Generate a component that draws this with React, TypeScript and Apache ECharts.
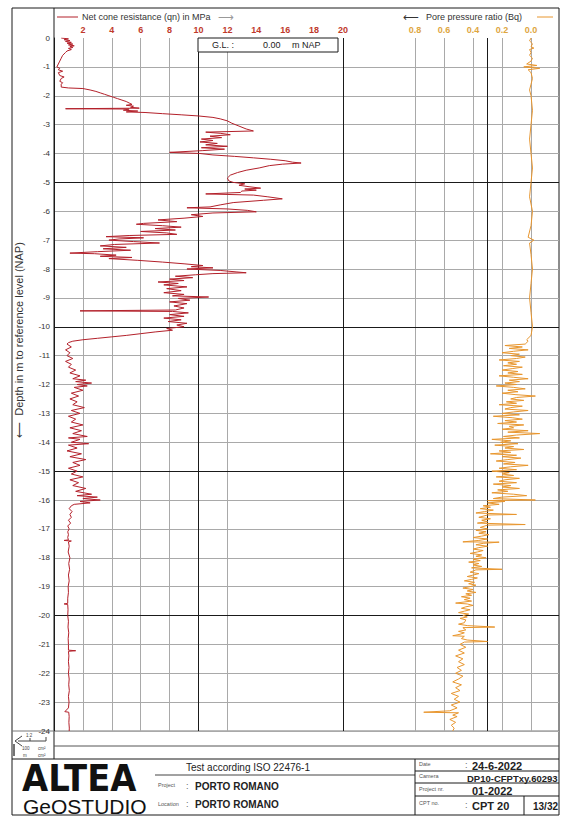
import React, { useEffect, useRef } from "react";
import * as echarts from "echarts";

// [depth below G.L. (m), net cone resistance qn (MPa)]
const QN_PROFILE: Array<[number, number]> = [
  [0.0, 0.5], [0.03, 1.0], [0.06, 0.7], [0.09, 1.1], [0.12, 0.8], [0.15, 1.2], [0.18, 0.9], [0.21, 1.3],
  [0.24, 1.0], [0.27, 1.4], [0.3, 1.1], [0.33, 1.3], [0.36, 1.0], [0.4, 1.2], [0.45, 0.9], [0.5, 0.8],
  [0.6, 0.6], [0.7, 0.5], [0.8, 0.4], [0.9, 0.3], [1.0, 0.2], [1.05, 0.4], [1.1, 0.3], [1.15, 0.6],
  [1.2, 0.3], [1.3, 0.4], [1.35, 0.7], [1.4, 0.5], [1.5, 0.4], [1.55, 0.6], [1.6, 0.5], [1.7, 0.5],
  [1.73, 1.0], [1.75, 2.0], [1.8, 2.5], [1.85, 2.9], [1.9, 3.2], [1.95, 3.5], [2.0, 3.8], [2.05, 4.1],
  [2.1, 4.4], [2.15, 4.7], [2.2, 5.0], [2.25, 5.2], [2.3, 5.4], [2.33, 5.0], [2.36, 5.5], [2.4, 5.3],
  [2.43, 5.9], [2.45, 0.8], [2.46, 5.2], [2.5, 4.8], [2.53, 5.8], [2.56, 5.0], [2.58, 6.3], [2.62, 7.5],
  [2.66, 8.8], [2.7, 10.0], [2.75, 11.0], [2.8, 11.5], [2.87, 12.0], [2.95, 12.3], [3.05, 12.8], [3.15, 13.3],
  [3.22, 13.8], [3.26, 10.5], [3.3, 11.5], [3.35, 12.2], [3.4, 10.8], [3.45, 11.6], [3.5, 10.2], [3.55, 11.0],
  [3.6, 10.1], [3.65, 11.3], [3.7, 10.5], [3.75, 12.0], [3.8, 10.2], [3.85, 11.8], [3.9, 10.3], [3.96, 8.0],
  [4.0, 10.1], [4.05, 11.0], [4.1, 12.5], [4.15, 13.8], [4.2, 15.0], [4.25, 16.0], [4.3, 16.5], [4.33, 17.1],
  [4.37, 15.8], [4.42, 14.9], [4.5, 14.2], [4.58, 13.3], [4.66, 12.7], [4.75, 12.2], [4.85, 12.0], [4.95, 12.1],
  [5.0, 12.4], [5.05, 13.2], [5.1, 12.8], [5.15, 13.5], [5.2, 14.3], [5.23, 13.2], [5.27, 14.0], [5.3, 13.0],
  [5.35, 12.9], [5.4, 10.5], [5.44, 13.8], [5.5, 14.8], [5.57, 15.8], [5.62, 14.5], [5.7, 12.4], [5.78, 11.5],
  [5.85, 10.8], [5.88, 9.2], [5.92, 12.0], [5.97, 13.4], [6.02, 14.0], [6.06, 11.0], [6.12, 9.5], [6.18, 10.3],
  [6.24, 9.0], [6.3, 7.2], [6.36, 8.5], [6.42, 6.2], [6.45, 5.7], [6.5, 7.5], [6.55, 8.8], [6.6, 7.0],
  [6.65, 8.4], [6.7, 6.0], [6.75, 7.8], [6.8, 8.5], [6.84, 5.2], [6.88, 3.6], [6.92, 6.2], [6.96, 4.5],
  [7.0, 3.8], [7.05, 5.5], [7.1, 7.3], [7.15, 4.2], [7.2, 3.2], [7.25, 5.0], [7.3, 3.4], [7.35, 5.3],
  [7.4, 3.0], [7.45, 1.1], [7.47, 2.8], [7.52, 4.3], [7.56, 3.2], [7.6, 5.4], [7.64, 3.8], [7.7, 5.8],
  [7.76, 7.5], [7.82, 9.0], [7.88, 10.3], [7.92, 9.5], [7.96, 11.0], [8.0, 9.2], [8.05, 11.5], [8.1, 12.6],
  [8.13, 13.3], [8.16, 11.0], [8.2, 9.8], [8.25, 8.4], [8.3, 9.6], [8.35, 8.0], [8.4, 9.0], [8.45, 7.2],
  [8.5, 8.6], [8.55, 7.6], [8.62, 9.2], [8.68, 7.8], [8.75, 8.8], [8.82, 7.6], [8.88, 9.0], [8.93, 8.2],
  [8.97, 10.7], [9.02, 8.6], [9.08, 9.4], [9.14, 8.0], [9.2, 9.2], [9.28, 8.3], [9.35, 9.0], [9.42, 8.4],
  [9.45, 1.8], [9.47, 8.2], [9.52, 9.3], [9.58, 8.0], [9.64, 9.0], [9.7, 7.6], [9.76, 8.8], [9.82, 7.9],
  [9.88, 9.2], [9.94, 8.5], [10.0, 9.0], [10.06, 7.8], [10.12, 8.2], [10.18, 7.0], [10.24, 6.0], [10.3, 5.0],
  [10.35, 4.0], [10.4, 3.0], [10.45, 2.0], [10.5, 1.3], [10.55, 1.0], [10.6, 0.9], [10.7, 1.2], [10.8, 0.8],
  [10.9, 1.1], [11.0, 0.9], [11.1, 1.3], [11.2, 0.8], [11.3, 1.2], [11.4, 1.0], [11.5, 1.5], [11.6, 1.1],
  [11.7, 1.8], [11.8, 1.3], [11.85, 2.2], [11.9, 1.5], [11.95, 2.6], [12.0, 1.6], [12.05, 2.3], [12.1, 1.4],
  [12.2, 2.0], [12.3, 1.2], [12.4, 1.7], [12.5, 1.1], [12.6, 1.6], [12.7, 1.3], [12.8, 2.1], [12.9, 1.2],
  [13.0, 1.8], [13.1, 1.0], [13.2, 1.5], [13.3, 1.2], [13.4, 2.0], [13.5, 1.1], [13.6, 1.9], [13.7, 1.3],
  [13.8, 2.3], [13.85, 1.0], [13.9, 1.8], [14.0, 1.2], [14.05, 2.4], [14.1, 1.0], [14.2, 1.6], [14.3, 0.9],
  [14.4, 1.9], [14.5, 1.1], [14.6, 2.2], [14.7, 1.3], [14.8, 1.8], [14.9, 1.0], [15.0, 1.6], [15.1, 1.2],
  [15.2, 2.0], [15.3, 1.1], [15.4, 1.7], [15.5, 1.3], [15.6, 2.2], [15.7, 1.5], [15.8, 2.6], [15.85, 1.6],
  [15.9, 3.0], [15.95, 2.0], [16.0, 3.2], [16.05, 1.8], [16.1, 2.5], [16.15, 1.4], [16.2, 1.2], [16.3, 1.05],
  [16.4, 1.25], [16.5, 1.1], [16.6, 1.2], [16.7, 1.0], [16.8, 1.15], [16.9, 0.95], [17.0, 1.05], [17.1, 0.95],
  [17.2, 1.0], [17.3, 0.95], [17.38, 1.0], [17.4, 0.7], [17.42, 1.2], [17.45, 1.0], [17.6, 1.05], [17.8, 0.98],
  [18.0, 1.1], [18.2, 1.02], [18.4, 1.08], [18.6, 1.0], [18.8, 1.05], [19.0, 0.98], [19.2, 1.0], [19.4, 0.95],
  [19.58, 0.95], [19.6, 0.7], [19.62, 0.95], [19.8, 0.97], [20.0, 0.95], [20.2, 1.0], [20.4, 0.97], [20.6, 1.02],
  [20.8, 0.98], [21.0, 1.0], [21.2, 1.0], [21.22, 1.5], [21.24, 1.0], [21.4, 1.03], [21.6, 1.0], [21.8, 1.04],
  [22.0, 1.0], [22.2, 1.05], [22.4, 1.02], [22.6, 1.06], [22.8, 1.0], [23.0, 1.04], [23.2, 1.0], [23.33, 0.75],
  [23.35, 1.02], [23.5, 1.05], [23.7, 1.03], [23.9, 1.06], [24.0, 1.05],
];

// [depth below G.L. (m), pore pressure ratio Bq (-)]
const BQ_PROFILE: Array<[number, number]> = [
  [0.0, 0.0], [0.1, 0.01], [0.2, -0.01], [0.3, 0.0], [0.35, -0.02], [0.4, 0.01], [0.5, 0.0], [0.6, 0.01],
  [0.7, -0.01], [0.8, 0.0], [0.9, 0.03], [0.95, -0.04], [1.0, 0.05], [1.05, -0.06], [1.1, 0.02], [1.2, 0.0],
  [1.4, -0.01], [1.6, 0.0], [1.8, 0.01], [2.0, 0.0], [2.5, -0.01], [3.0, 0.0], [3.5, 0.01], [4.0, 0.0],
  [4.5, -0.01], [5.0, 0.0], [5.5, 0.01], [6.0, -0.01], [6.5, 0.0], [6.9, 0.02], [7.0, -0.02], [7.1, 0.01],
  [7.5, 0.0], [8.0, -0.01], [8.5, 0.0], [9.0, 0.01], [9.5, 0.0], [10.0, -0.01], [10.3, 0.0], [10.45, 0.03],
  [10.5, 0.02], [10.6, 0.04], [10.65, 0.18], [10.7, 0.06], [10.75, 0.15], [10.8, 0.02], [10.85, 0.12], [10.9, 0.2],
  [10.95, 0.08], [11.0, 0.14], [11.05, 0.04], [11.1, 0.1], [11.15, 0.22], [11.2, 0.08], [11.25, 0.16], [11.3, 0.1],
  [11.35, 0.19], [11.4, 0.06], [11.45, 0.13], [11.5, 0.2], [11.55, 0.09], [11.6, 0.16], [11.65, 0.06], [11.7, 0.22],
  [11.75, 0.12], [11.8, 0.02], [11.85, 0.15], [11.9, 0.08], [11.95, 0.18], [12.0, 0.1], [12.05, 0.24], [12.1, 0.12],
  [12.15, 0.04], [12.2, 0.16], [12.25, 0.09], [12.3, 0.2], [12.35, 0.11], [12.4, -0.03], [12.45, 0.1], [12.5, 0.14],
  [12.55, 0.05], [12.6, 0.17], [12.65, 0.1], [12.7, 0.22], [12.75, 0.06], [12.8, 0.14], [12.85, 0.18], [12.9, 0.02],
  [12.95, 0.12], [13.0, 0.2], [13.05, 0.08], [13.1, 0.26], [13.15, 0.13], [13.2, 0.06], [13.25, 0.18], [13.3, 0.1],
  [13.35, 0.23], [13.4, 0.05], [13.45, 0.15], [13.5, 0.12], [13.55, 0.2], [13.6, 0.02], [13.65, 0.16], [13.7, -0.06],
  [13.75, 0.1], [13.8, 0.19], [13.85, 0.08], [13.9, 0.27], [13.95, 0.14], [14.0, 0.21], [14.05, 0.09], [14.1, 0.25],
  [14.15, 0.12], [14.2, 0.18], [14.25, 0.05], [14.3, 0.22], [14.35, 0.14], [14.4, 0.28], [14.45, 0.1], [14.5, 0.2],
  [14.55, 0.07], [14.6, 0.16], [14.65, 0.24], [14.7, 0.11], [14.75, 0.19], [14.8, 0.02], [14.85, 0.14], [14.9, 0.22],
  [14.95, 0.1], [15.0, 0.27], [15.05, 0.15], [15.1, 0.2], [15.15, 0.12], [15.2, 0.24], [15.25, 0.08], [15.3, 0.18],
  [15.35, 0.22], [15.4, 0.1], [15.45, 0.26], [15.5, 0.14], [15.55, 0.2], [15.6, 0.08], [15.65, 0.23], [15.7, 0.16],
  [15.75, 0.27], [15.8, 0.12], [15.85, 0.03], [15.9, 0.2], [15.95, 0.26], [16.0, -0.03], [16.02, 0.3], [16.05, 0.18],
  [16.1, 0.3], [16.15, 0.22], [16.2, 0.33], [16.25, 0.28], [16.3, 0.35], [16.35, 0.26], [16.4, 0.32], [16.45, 0.38],
  [16.5, 0.1], [16.52, 0.3], [16.6, 0.36], [16.65, 0.28], [16.7, 0.34], [16.75, 0.3], [16.8, 0.37], [16.85, 0.04],
  [16.87, 0.3], [16.95, 0.35], [17.0, 0.3], [17.05, 0.38], [17.1, 0.31], [17.15, 0.36], [17.2, 0.29], [17.25, 0.34],
  [17.3, 0.4], [17.35, 0.3], [17.4, 0.36], [17.45, 0.47], [17.46, 0.22], [17.5, 0.33], [17.55, 0.38], [17.6, 0.3],
  [17.65, 0.36], [17.7, 0.4], [17.75, 0.33], [17.8, 0.37], [17.85, 0.42], [17.9, 0.34], [17.95, 0.38], [18.0, 0.31],
  [18.05, 0.4], [18.1, 0.35], [18.15, 0.43], [18.2, 0.36], [18.25, 0.4], [18.3, 0.34], [18.35, 0.41], [18.4, 0.2],
  [18.42, 0.38], [18.5, 0.42], [18.55, 0.36], [18.6, 0.4], [18.65, 0.44], [18.7, 0.37], [18.75, 0.41], [18.8, 0.46],
  [18.85, 0.39], [18.9, 0.43], [18.95, 0.38], [19.0, 0.42], [19.05, 0.47], [19.1, 0.4], [19.15, 0.44], [19.2, 0.38],
  [19.25, 0.45], [19.3, 0.41], [19.35, 0.48], [19.4, 0.42], [19.45, 0.46], [19.5, 0.41], [19.57, 0.52], [19.6, 0.44],
  [19.65, 0.4], [19.7, 0.45], [19.75, 0.48], [19.8, 0.42], [19.85, 0.46], [19.9, 0.5], [19.95, 0.43], [20.0, 0.47],
  [20.05, 0.44], [20.1, 0.49], [20.15, 0.45], [20.25, 0.46], [20.3, 0.5], [20.35, 0.44], [20.4, 0.25], [20.42, 0.47],
  [20.5, 0.45], [20.55, 0.5], [20.6, 0.46], [20.65, 0.49], [20.7, 0.54], [20.72, 0.46], [20.8, 0.48], [20.85, 0.44],
  [20.9, 0.3], [20.92, 0.46], [21.0, 0.49], [21.1, 0.45], [21.2, 0.5], [21.3, 0.46], [21.4, 0.52], [21.5, 0.47],
  [21.6, 0.5], [21.7, 0.46], [21.8, 0.51], [21.9, 0.48], [22.0, 0.52], [22.1, 0.47], [22.2, 0.5], [22.3, 0.54],
  [22.4, 0.48], [22.5, 0.52], [22.6, 0.49], [22.7, 0.55], [22.8, 0.5], [22.9, 0.53], [23.0, 0.49], [23.1, 0.55],
  [23.2, 0.51], [23.3, 0.56], [23.35, 0.74], [23.37, 0.5], [23.45, 0.54], [23.5, 0.51], [23.6, 0.56], [23.7, 0.52],
  [23.8, 0.55], [23.9, 0.53], [24.0, 0.54],
];

const QN_GRID_MINOR = [2, 4, 6, 8, 12];
const QN_GRID_MAJOR = [10, 20];
const BQ_TICKS = [0, 0.2, 0.4, 0.6, 0.8];
const BQ_GRID_MAJOR = [0.3];
const DEPTH_MAJOR = [-5, -10, -15, -20];

const QN_COLOR = "#b3202a";
const BQ_COLOR = "#e8962e";
const QN_LABEL = "#c0392b";
const BQ_LABEL = "#dea63f";
const GRID_GRAY = "#a9a9a9";
const INK = "#1a1a1a";
const FONT = "Liberation Sans, Arial, sans-serif";

function vLine(x: number, color: string) {
  return { xAxis: x, lineStyle: { color, width: 1, type: "solid" } };
}
function hLine(y: number) {
  return { yAxis: y, lineStyle: { color: INK, width: 1, type: "solid" } };
}

function line(x1: number, y1: number, x2: number, y2: number, stroke = INK, lineWidth = 1) {
  return { type: "line", shape: { x1, y1, x2, y2 }, style: { stroke, lineWidth }, silent: true };
}
function text(x: number, y: number, str: string, opts: any = {}) {
  return {
    type: "text",
    x,
    y,
    silent: true,
    style: {
      text: str,
      fontFamily: FONT,
      fontSize: 9,
      fill: "#222",
      align: "left",
      verticalAlign: "middle",
      ...opts,
    },
  };
}

export default function App() {
  const ref = useRef<HTMLDivElement>(null);

  useEffect(() => {
    if (!ref.current) return;
    const chart = echarts.init(ref.current, undefined, { renderer: "svg" });

    const depthAxisBase = {
      type: "value",
      min: -24,
      max: 0,
      interval: 1,
      axisTick: { show: false },
      splitLine: { show: true, showMaxLine: false, lineStyle: { color: GRID_GRAY, width: 1 } },
    };

    const option: any = {
      animation: false,
      backgroundColor: "#ffffff",
      grid: [
        { left: 54, top: 38, width: 289, height: 693 },
        { left: 343, top: 38, width: 216, height: 693 },
      ],
      xAxis: [
        {
          gridIndex: 0,
          type: "value",
          position: "top",
          min: 0,
          max: 20,
          interval: 2,
          axisLine: { show: false },
          axisTick: { show: false },
          splitLine: { show: false },
          axisLabel: {
            color: QN_LABEL,
            fontWeight: "bold",
            fontSize: 9,
            fontFamily: FONT,
            margin: 4,
            formatter: (v: number) => (v === 0 ? "" : String(v)),
          },
        },
        {
          gridIndex: 1,
          type: "value",
          position: "top",
          inverse: true,
          min: -0.193,
          max: 1.297,
          axisLine: { show: false },
          axisTick: { show: false },
          splitLine: { show: false },
          axisLabel: {
            customValues: BQ_TICKS,
            color: BQ_LABEL,
            fontWeight: "bold",
            fontSize: 9,
            fontFamily: FONT,
            margin: 4,
            formatter: (v: number) => v.toFixed(1),
          },
        },
      ],
      yAxis: [
        {
          ...depthAxisBase,
          gridIndex: 0,
          axisLine: { show: true, lineStyle: { color: INK, width: 1 } },
          axisLabel: { color: "#333", fontSize: 8, fontFamily: FONT, margin: 4 },
        },
        {
          ...depthAxisBase,
          gridIndex: 1,
          axisLine: { show: false },
          axisLabel: { show: false },
        },
      ],
      series: [
        {
          name: "Net cone resistance",
          type: "line",
          xAxisIndex: 0,
          yAxisIndex: 0,
          data: QN_PROFILE.map(([d, q]) => [q, -d]),
          showSymbol: false,
          symbol: "none",
          clip: true,
          lineStyle: { color: QN_COLOR, width: 1 },
          z: 3,
          markLine: {
            silent: true,
            symbol: ["none", "none"],
            label: { show: false },
            z: 1,
            data: [
              ...QN_GRID_MINOR.map((x) => vLine(x, GRID_GRAY)),
              ...QN_GRID_MAJOR.map((x) => vLine(x, INK)),
              ...DEPTH_MAJOR.map((y) => hLine(y)),
            ],
          },
        },
        {
          name: "Pore pressure ratio",
          type: "line",
          xAxisIndex: 1,
          yAxisIndex: 1,
          data: BQ_PROFILE.map(([d, b]) => [b, -d]),
          showSymbol: false,
          symbol: "none",
          clip: true,
          lineStyle: { color: BQ_COLOR, width: 1 },
          z: 3,
          markLine: {
            silent: true,
            symbol: ["none", "none"],
            label: { show: false },
            z: 1,
            data: [
              ...BQ_TICKS.map((x) => vLine(x, GRID_GRAY)),
              ...BQ_GRID_MAJOR.map((x) => vLine(x, INK)),
              ...DEPTH_MAJOR.map((y) => hLine(y)),
            ],
          },
        },
      ],
      graphic: [
        // sheet frame and panel rules
        { type: "rect", shape: { x: 12, y: 8, width: 547, height: 807 }, style: { fill: "none", stroke: INK, lineWidth: 1 }, silent: true },
        line(54, 8, 54, 759),
        line(12, 731, 559, 731, "#777"),
        line(54, 746, 559, 746, "#555"),
        line(12, 759, 559, 759),

        // header of the cone resistance panel
        line(57, 17, 78, 17, QN_COLOR, 1),
        text(82, 17, "Net cone resistance (qn) in MPa", { fontSize: 9, fill: "#333" }),
        text(218, 17, "⟶", { fontSize: 11, fill: "#999" }),

        // header of the pore pressure panel
        text(403, 17, "⟵", { fontSize: 11, fill: "#333" }),
        text(426, 17, "Pore pressure ratio (Bq)", { fontSize: 9, fill: "#333" }),
        line(537, 17, 553, 17, BQ_COLOR, 1),

        // ground level box
        { type: "rect", shape: { x: 198, y: 38, width: 140, height: 14 }, style: { fill: "#fff", stroke: INK, lineWidth: 1 }, silent: true, z: 10 },
        { ...text(212, 45, "G.L. :", { fontSize: 9 }), z: 11 },
        { ...text(263, 45, "0.00", { fontSize: 9 }), z: 11 },
        { ...text(292, 45, "m NAP", { fontSize: 9 }), z: 11 },

        // vertical axis title
        {
          type: "text",
          x: 19,
          y: 340,
          rotation: Math.PI / 2,
          silent: true,
          style: {
            text: "⟵  Depth in m to reference level (NAP)",
            fontFamily: FONT,
            fontSize: 11,
            fill: "#333",
            align: "center",
            verticalAlign: "middle",
          },
        },

        // scale key in the lower left box
        { type: "polyline", shape: { points: [[22, 736], [15, 741], [22, 746]] }, style: { stroke: "#444", fill: "none", lineWidth: 1 }, silent: true },
        line(18, 741, 46, 741, "#444"),
        line(30, 738, 30, 741, "#444"),
        line(46, 737, 46, 741, "#444"),
        line(14, 744, 14, 756, "#444", 1.5),
        text(26, 735, "1:2", { fontSize: 4.5, fill: "#444" }),
        text(22, 748, "100", { fontSize: 4.5, fill: "#444" }),
        text(38, 748, "cm²", { fontSize: 4.5, fill: "#444" }),
        text(23, 755, "m", { fontSize: 4.5, fill: "#444" }),
        text(38, 755, "cm²", { fontSize: 4.5, fill: "#444" }),

        // company mark
        {
          ...text(0, 0, "ALTEA", { fontFamily: "DejaVu Sans, sans-serif", fontWeight: "bold", fontSize: 38, fill: "#111" }),
          x: 22,
          y: 778,
          scaleX: 0.89,
        },
        text(23, 806.5, "GeOSTUDIO", { fontSize: 21, fill: "#111" }),

        // title block
        line(155, 775, 415, 775, "#444"),
        text(186, 767, "Test according ISO 22476-1", { fontSize: 10 }),
        text(158, 785, "Project", { fontSize: 5.5, fill: "#555" }),
        text(186, 786, ":", { fontSize: 9, fill: "#666" }),
        text(195, 786, "PORTO ROMANO", { fontSize: 10, fontWeight: "bold" }),
        text(158, 804, "Location", { fontSize: 5.5, fill: "#555" }),
        text(186, 804, ":", { fontSize: 9, fill: "#666" }),
        text(195, 804, "PORTO ROMANO", { fontSize: 10, fontWeight: "bold" }),

        line(415, 759, 415, 815),
        line(415, 771, 559, 771),
        line(415, 783, 559, 783),
        line(415, 796, 559, 796),
        line(524, 796, 524, 815),
        text(419, 764, "Date", { fontSize: 5.5, fill: "#555" }),
        text(465, 765, ":", { fontSize: 9, fill: "#666" }),
        text(472, 766, "24-6-2022", { fontSize: 11, fontWeight: "bold" }),
        text(419, 776, "Camera", { fontSize: 5.5, fill: "#555" }),
        text(467, 778, "DP10-CFPTxy.60293", { fontSize: 9.5, fontWeight: "bold" }),
        text(419, 789, "Project nr.", { fontSize: 5.5, fill: "#555" }),
        text(472, 791, "01-2022", { fontSize: 11, fontWeight: "bold" }),
        text(419, 803, "CPT no.", { fontSize: 5.5, fill: "#555" }),
        text(465, 805, ":", { fontSize: 9, fill: "#666" }),
        text(472, 806, "CPT 20", { fontSize: 11, fontWeight: "bold" }),
        text(533, 806, "13/32", { fontSize: 10, fontWeight: "bold" }),
      ],
    };

    chart.setOption(option);
    return () => chart.dispose();
  }, []);

  return (
    <div
      ref={ref}
      style={{ position: "absolute", left: 0, top: 0, width: 561, height: 818, background: "#fff" }}
    />
  );
}
